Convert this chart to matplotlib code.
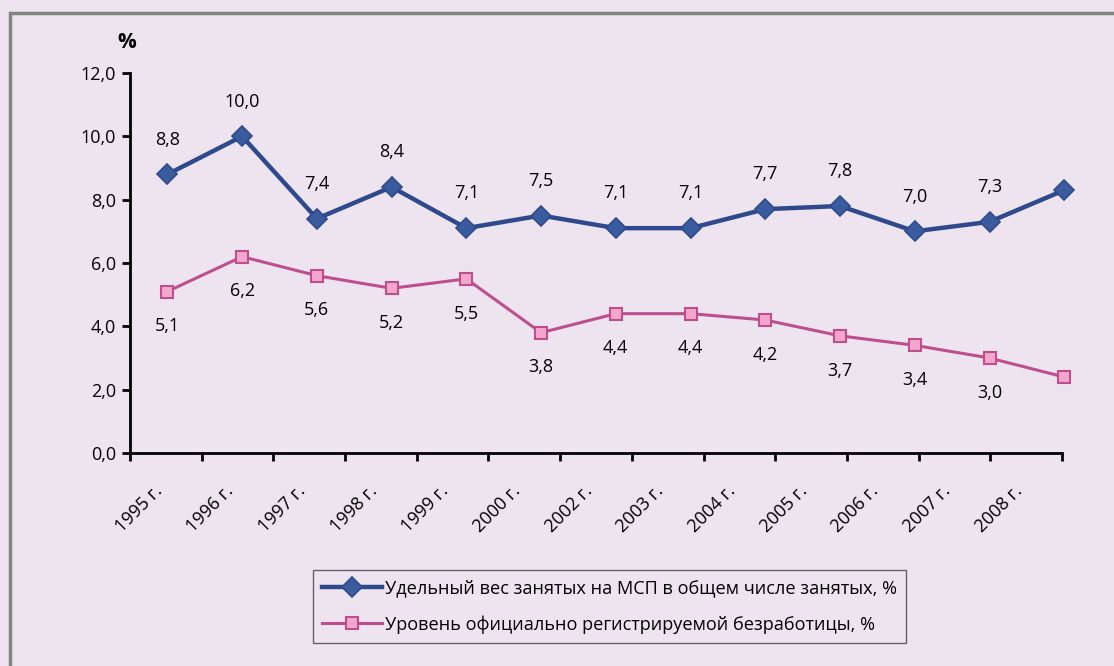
"""Employment share in SMEs vs registered unemployment, 1995-2008."""

import matplotlib
matplotlib.use('Agg')
import matplotlib.pyplot as plt
import matplotlib.patches as patches
import matplotlib.transforms as mtransforms
import numpy as np

plt.rcParams['font.family'] = ['Open Sans', 'DejaVu Sans']

years = ['1995 г.', '1996 г.', '1997 г.', '1998 г.', '1999 г.', '2000 г.', '2002 г.',
         '2003 г.', '2004 г.', '2005 г.', '2006 г.', '2007 г.', '2008 г.']
sme_share = [8.8, 10.0, 7.4, 8.4, 7.1, 7.5, 7.1, 7.1, 7.7, 7.8, 7.0, 7.3, 8.3]
unemployment = [5.1, 6.2, 5.6, 5.2, 5.5, 3.8, 4.4, 4.4, 4.2, 3.7, 3.4, 3.0, 2.4]
sme_label = 'Удельный вес занятых на МСП в общем числе занятых, %'
unemp_label = 'Уровень официально регистрируемой безработицы, %'

bg = '#EEE4F0'
blue = '#2E4A8C'
blue_fill = '#3A5C9E'
pink = '#BE4F8F'
pink_fill = '#F5A6CC'
fontsize = 13

fig = plt.figure(figsize=(11.14, 6.66), dpi=100)
fig.patch.set_facecolor(bg)

# outer grey frame (runs off the right and bottom edges)
top = 1 - 13/666
frame = patches.Rectangle((10/1114, -0.2), 1.3, top + 0.2,
                          transform=fig.transFigure, fill=False,
                          edgecolor='#858585', lw=2.5)
fig.patches.append(frame)

ax = fig.add_axes([130/1114, 1 - 453/666, 932/1114, 380/666])
ax.set_facecolor('none')

x = np.arange(len(years))
ax.plot(x, sme_share, color=blue, lw=3.2, marker='D', markersize=10.5,
        markerfacecolor=blue_fill, markeredgecolor=blue, markeredgewidth=1.2,
        label=sme_label, zorder=3, clip_on=False)
ax.plot(x, unemployment, color=pink, lw=2.2, marker='s', markersize=9,
        markerfacecolor=pink_fill, markeredgecolor=pink, markeredgewidth=1.5,
        label=unemp_label, zorder=3, clip_on=False)

for xi, v in zip(x, sme_share):
    ax.annotate('{:.1f}'.format(v).replace('.', ','), (xi, v), xytext=(0, 25),
                textcoords='offset points', ha='center', va='center',
                fontsize=fontsize)
for xi, v in zip(x, unemployment):
    ax.annotate('{:.1f}'.format(v).replace('.', ','), (xi, v), xytext=(0, -25),
                textcoords='offset points', ha='center', va='center',
                fontsize=fontsize)

xmin, xmax = -0.5, 11.97
ax.set_xlim(xmin, xmax)
ax.set_ylim(0, 12)

# tick marks between categories, labels centred between marks
bounds = np.linspace(xmin, xmax, len(years) + 1)
ax.set_xticks(bounds, minor=True)
ax.set_xticks((bounds[:-1] + bounds[1:]) / 2)
ax.set_xticklabels(years, rotation=45, ha='right', va='top',
                   rotation_mode='anchor', fontsize=fontsize)
ax.tick_params(axis='x', which='major', length=0, pad=21)
ax.tick_params(axis='x', which='minor', length=6, width=2, direction='out')
shift = mtransforms.ScaledTranslation(-0.13, 0, fig.dpi_scale_trans)
for lbl in ax.get_xticklabels():
    lbl.set_transform(lbl.get_transform() + shift)

ax.set_yticks(np.arange(0, 13, 2))
ax.set_yticklabels(['{:.1f}'.format(t).replace('.', ',') for t in np.arange(0, 13, 2)],
                   fontsize=fontsize)
ax.tick_params(axis='y', length=6, width=2, direction='out', pad=4)

for side in ['top', 'right']:
    ax.spines[side].set_visible(False)
for side in ['left', 'bottom']:
    ax.spines[side].set_linewidth(2)

fig.text(127/1114, 1 - 43/666, '%', fontsize=15, fontweight='bold',
         ha='center', va='center')

leg = fig.legend(loc='upper left', bbox_to_anchor=(313/1114, 1 - 570/666),
                 frameon=True, fancybox=False, fontsize=13.1,
                 handlelength=3.3, handletextpad=0.15, borderpad=0.5,
                 labelspacing=1.0, borderaxespad=0)
leg.get_frame().set_edgecolor('#404040')
leg.get_frame().set_linewidth(1)
leg.get_frame().set_facecolor('none')

plt.savefig('out.png', dpi=100, facecolor=bg)
